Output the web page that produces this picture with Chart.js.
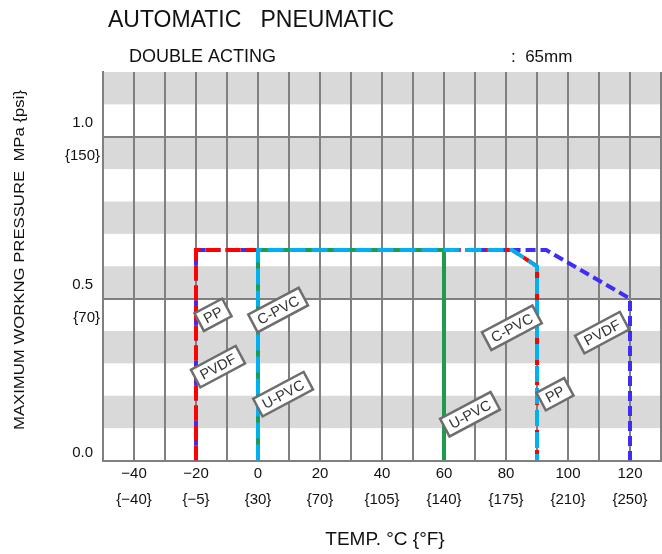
<!DOCTYPE html>
<html>
<head>
<meta charset="utf-8">
<script src="https://cdn.jsdelivr.net/npm/chart.js@4/dist/chart.umd.min.js"></script>
<style>
  html, body { margin: 0; padding: 0; background: #fff; }
  #wrap { width: 662px; height: 554px; }
</style>
</head>
<body>
<div id="wrap"><canvas id="chart" width="662" height="554"></canvas></div>
<script>
// x axis: temperature (°C), ticks every 10, labels every 20
const xTicks = [-50, -40, -30, -20, -10, 0, 10, 20, 30, 40, 50, 60, 70, 80, 90, 100, 110, 120, 130];
const xLabelC = ['−40', '−20', '0', '20', '40', '60', '80', '100', '120'];
const xLabelF = ['{−40}', '{−5}', '{30}', '{70}', '{105}', '{140}', '{175}', '{210}', '{250}'];
const xLabelVals = [-40, -20, 0, 20, 40, 60, 80, 100, 120];

// y axis: pressure (MPa)
const yTicks = [0, 0.5, 1.0];
const yLabelMPa = ['0.0', '0.5', '1.0'];
const yLabelPsi = ['', '{70}', '{150}'];
const yBands = [0.1, 0.3, 0.5, 0.7, 0.9, 1.1];   // shaded 0.1-wide bands start here

// series (x = °C, y = MPa)
const cpvcX = [0, 0, 82, 90, 90];
const cpvcY = [0, 0.65, 0.65, 0.6, 0];
const upvcX = [0, 0, 60, 60];
const upvcY = [0, 0.65, 0.65, 0];
const ppX = [-20, -20, 82, 90, 90];
const ppY = [0, 0.65, 0.65, 0.6, 0];
const pvdfX = [-20, -20, 93, 120, 120];
const pvdfY = [0, 0.65, 0.65, 0.5, 0];

// tags on the lines
const tagText = ['PP', 'PVDF', 'C-PVC', 'U-PVC', 'U-PVC', 'C-PVC', 'PP', 'PVDF'];
const tagX = [-14.5, -12.9, 6.5, 8.1, 68.4, 81.9, 95.8, 111];
const tagY = [0.45, 0.29, 0.465, 0.205, 0.143, 0.41, 0.205, 0.395];

const FONT = '"Liberation Sans", Arial, sans-serif';

function pts(xs, ys) {
  return xs.map((x, i) => ({ x: x, y: ys[i] }));
}

const decor = {
  id: 'decor',
  beforeDraw(chart) {
    const { ctx, chartArea: a, scales: { y } } = chart;
    ctx.save();
    ctx.fillStyle = '#fff';
    ctx.fillRect(0, 0, chart.width, chart.height);
    ctx.fillStyle = '#d9d9d9';
    yBands.forEach(b => {
      const top = y.getPixelForValue(b + 0.1);
      const bot = y.getPixelForValue(b);
      ctx.fillRect(a.left, top, a.right - a.left, bot - top);
    });
    ctx.restore();
  },
  afterDatasetsDraw(chart) {
    const { ctx, scales: { x, y } } = chart;
    ctx.save();
    ctx.font = '14.5px ' + FONT;
    ctx.textAlign = 'center';
    ctx.textBaseline = 'middle';
    tagText.forEach((t, i) => {
      const px = x.getPixelForValue(tagX[i]);
      const py = y.getPixelForValue(tagY[i]);
      const w = ctx.measureText(t).width + 12;
      const h = 20;
      ctx.save();
      ctx.translate(px, py);
      ctx.rotate(-28 * Math.PI / 180);
      ctx.fillStyle = '#fff';
      ctx.fillRect(-w / 2, -h / 2, w, h);
      ctx.strokeStyle = '#6e6e6e';
      ctx.lineWidth = 2.5;
      ctx.strokeRect(-w / 2, -h / 2, w, h);
      ctx.fillStyle = '#333';
      ctx.fillText(t, 0, 1);
      ctx.restore();
    });
    ctx.restore();
  },
  afterDraw(chart) {
    const { ctx, chartArea: a, scales: { y } } = chart;
    ctx.save();
    ctx.fillStyle = '#111';
    ctx.textBaseline = 'middle';

    // y tick labels, MPa above the line and psi below
    ctx.font = '15px ' + FONT;
    yTicks.forEach((v, i) => {
      const py = y.getPixelForValue(v);
      const up = py >= a.bottom - 1 ? 8 : 14;
      ctx.textAlign = 'right';
      ctx.fillText(yLabelMPa[i], 93, py - up);
      if (yLabelPsi[i]) ctx.fillText(yLabelPsi[i], 100, py + 19);
    });

    // y title, stretched to the reference's length
    ctx.save();
    ctx.translate(20, 260);
    ctx.rotate(-Math.PI / 2);
    ctx.textAlign = 'center';
    ctx.font = '14px ' + FONT;
    const yTitle = 'MAXIMUM WORKNG PRESSURE  MPa {psi}';
    ctx.scale(340 / ctx.measureText(yTitle).width, 1);
    ctx.fillText(yTitle, 0, 0);
    ctx.restore();

    // headings
    ctx.textAlign = 'left';
    ctx.font = '23px ' + FONT;
    ctx.fillText('AUTOMATIC   PNEUMATIC', 108, 21);
    ctx.font = '18px ' + FONT;
    ctx.fillText('DOUBLE ACTING', 129, 57);
    ctx.font = '17px ' + FONT;
    ctx.fillText(':  65mm', 511, 57);

    // x title
    ctx.textAlign = 'center';
    ctx.font = '19px ' + FONT;
    ctx.fillText('TEMP. °C {°F}', 385, 540);
    ctx.restore();
  }
};

new Chart(document.getElementById('chart'), {
  type: 'line',
  data: {
    datasets: [
      { label: 'C-PVC', data: pts(cpvcX, cpvcY), borderColor: '#00b0f0', borderDash: [16, 6] },
      { label: 'U-PVC', data: pts(upvcX, upvcY), borderColor: '#1e9b4f' },
      { label: 'PP', data: pts(ppX, ppY), borderColor: '#ff0000', borderDash: [15, 5] },
      { label: 'PVDF', data: pts(pvdfX, pvdfY), borderColor: '#3f2cf5', borderDash: [10, 5] }
    ]
  },
  options: {
    responsive: false,
    animation: false,
    devicePixelRatio: 1,
    layout: { padding: { top: 72, left: 103, right: 1, bottom: 41 } },
    elements: {
      line: { borderWidth: 4, tension: 0, borderCapStyle: 'butt', borderJoinStyle: 'miter', fill: false },
      point: { radius: 0, hoverRadius: 0 }
    },
    plugins: {
      legend: { display: false },
      tooltip: { enabled: false }
    },
    scales: {
      x: {
        type: 'linear',
        min: -50,
        max: 130,
        afterBuildTicks: s => { s.ticks = xTicks.map(v => ({ value: v })); },
        grid: { color: '#808080', lineWidth: 2, drawTicks: false },
        border: { color: '#808080', width: 2 },
        ticks: {
          padding: 0,
          autoSkip: false,
          maxRotation: 0,
          color: '#111',
          font: { family: FONT, size: 15, lineHeight: 1.75 },
          callback: v => {
            const i = xLabelVals.indexOf(v);
            return i < 0 ? '' : [xLabelC[i], xLabelF[i]];
          }
        }
      },
      y: {
        type: 'linear',
        min: 0,
        max: 1.2,
        afterBuildTicks: s => { s.ticks = yTicks.map(v => ({ value: v })); },
        grid: { color: '#808080', lineWidth: 2, drawTicks: false },
        border: { color: '#808080', width: 2 },
        ticks: { display: false }
      }
    }
  },
  plugins: [decor]
});
</script>
</body>
</html>
